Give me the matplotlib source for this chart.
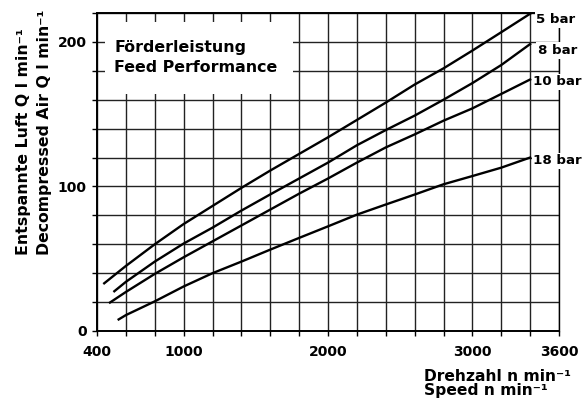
import matplotlib
matplotlib.use('Agg')
import matplotlib.pyplot as plt
from matplotlib.patches import Rectangle

plt.rcParams['font.family'] = ['DejaVu Sans']
plt.rcParams['font.weight'] = 'bold'

# Drehzahl n (1/min) und Foerderleistung Q (l/min) je Druck
n_5bar = [450, 600, 800, 1000, 1200, 1400, 1600, 1800, 2000, 2200, 2400, 2600, 2800, 3000, 3200, 3400]
q_5bar = [33, 45, 60, 74, 86.5, 99, 111, 122.5, 134, 146, 158, 170.5, 181.7, 194, 206.7, 219.5]

n_8bar = [520, 600, 800, 1000, 1200, 1400, 1600, 1800, 2000, 2200, 2400, 2600, 2800, 3000, 3200, 3400]
q_8bar = [27.5, 34, 48, 60.5, 71.5, 83.3, 94.5, 105.5, 116.5, 128.5, 139, 149, 160, 171.5, 184, 198.5]

n_10bar = [490, 600, 800, 1000, 1200, 1400, 1600, 1800, 2000, 2200, 2400, 2600, 2800, 3000, 3200, 3400]
q_10bar = [19.7, 27, 39.5, 51, 62, 73, 84, 95, 105.5, 116.5, 127, 136, 145.5, 154, 164, 174]

n_18bar = [550, 600, 800, 1000, 1200, 1400, 1600, 1800, 2000, 2200, 2400, 2600, 2800, 3000, 3200, 3400]
q_18bar = [8, 11, 20.5, 30.8, 40, 48, 56.3, 64.4, 72.4, 80.5, 87.5, 94.4, 101.5, 107.2, 113, 120]

kurven = [
    (n_5bar, q_5bar, '5 bar', 3442, 213),
    (n_8bar, q_8bar, '8 bar', 3455, 191.7),
    (n_10bar, q_10bar, '10 bar', 3422, 170),
    (n_18bar, q_18bar, '18 bar', 3422, 115.3),
]

x_ticks = list(range(400, 3601, 200))
x_labels = {400: '400', 1000: '1000', 2000: '2000', 3000: '3000', 3600: '3600'}
y_ticks = list(range(0, 221, 20))
y_labels = {0: '0', 100: '100', 200: '200'}

fig = plt.figure(figsize=(5.82, 4.05), dpi=100)
ax = fig.add_axes([97 / 582, 1 - 331 / 405, (559 - 97) / 582, (331 - 13) / 405])
ax.set_xlim(400, 3600)
ax.set_ylim(0, 220)

ax.set_xticks(x_ticks)
ax.set_xticklabels([x_labels.get(t, '') for t in x_ticks], fontsize=10, fontweight='bold')
ax.set_yticks(y_ticks)
ax.set_yticklabels([y_labels.get(t, '') for t in y_ticks], fontsize=10, fontweight='bold')
ax.tick_params(direction='out', length=3.5, width=1, color='black')
ax.tick_params(axis='x', pad=6.5)
ax.tick_params(axis='y', pad=4)
ax.grid(True, color='#222222', linewidth=1.0)
ax.set_axisbelow(True)

for side in ['left', 'bottom', 'top']:
    ax.spines[side].set_linewidth(1.4)
ax.spines['right'].set_linewidth(1.0)

# weisses Feld hinter dem Titel
ax.add_patch(Rectangle((455, 164), 1300, 50, facecolor='white', edgecolor='none', zorder=1.5))
ax.text(518, 193.1, 'Förderleistung', fontsize=11.4, fontweight='bold', va='baseline', zorder=4)
ax.text(518, 179.2, 'Feed Performance', fontsize=11.4, fontweight='bold', va='baseline', zorder=4)

for n, q, name, lx, ly in kurven:
    ax.plot(n, q, color='black', linewidth=1.7, zorder=3)
    ax.text(lx, ly, name, fontsize=9.6, fontweight='bold', va='baseline', ha='left', zorder=6,
            clip_on=False, bbox=dict(facecolor='white', edgecolor='none', pad=1.2))

fig.text(28 / 582, 1 - 255 / 405, 'Entspannte Luft Q l min⁻¹', rotation=90,
         rotation_mode='anchor', ha='left', va='baseline', fontsize=11.3, fontweight='bold')
fig.text(49 / 582, 1 - 255 / 405, 'Decompressed Air Q l min⁻¹', rotation=90,
         rotation_mode='anchor', ha='left', va='baseline', fontsize=11.3, fontweight='bold')

fig.text(424 / 582, 1 - 381 / 405, 'Drehzahl n min⁻¹', ha='left', va='baseline',
         fontsize=11.2, fontweight='bold')
fig.text(424 / 582, 1 - 395 / 405, 'Speed n min⁻¹', ha='left', va='baseline',
         fontsize=11.2, fontweight='bold')

fig.savefig('out.png', dpi=100, facecolor='white')
